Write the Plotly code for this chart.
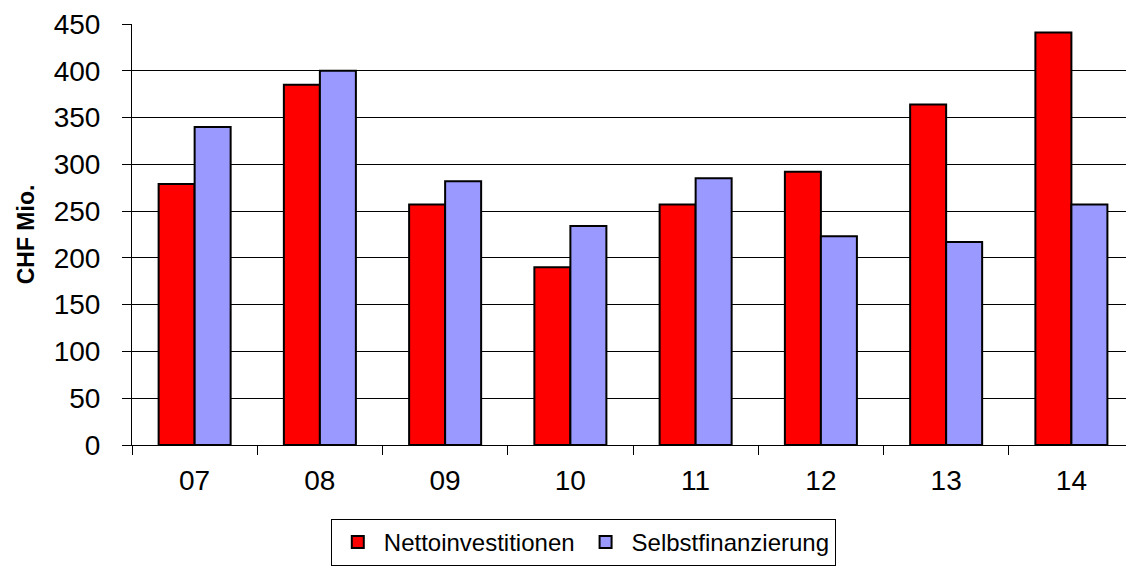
import plotly.graph_objects as go

categories = ["07", "08", "09", "10", "11", "12", "13", "14"]
netto = [279, 385, 257, 190, 257, 292, 364, 441]
selbst = [340, 400, 282, 234, 285, 223, 217, 257]
y_ticks = [0, 50, 100, 150, 200, 250, 300, 350, 400, 450]

FONT = "Liberation Sans, Arial, sans-serif"

fig = go.Figure()
fig.add_trace(go.Bar(
    x=categories, y=netto, name="Nettoinvestitionen",
    marker=dict(color="#FF0000", line=dict(color="#000000", width=2)),
))
fig.add_trace(go.Bar(
    x=categories, y=selbst, name="Selbstfinanzierung",
    marker=dict(color="#9999FF", line=dict(color="#000000", width=2)),
))

fig.update_layout(
    width=1126, height=566,
    margin=dict(l=132, r=0, t=24, b=120, pad=0),
    paper_bgcolor="white", plot_bgcolor="white",
    barmode="group", bargap=0.425, bargroupgap=0,
    font=dict(family=FONT, color="black"),
    showlegend=True,
    legend=dict(
        orientation="h",
        x=0.2, xanchor="left",
        y=-0.177, yanchor="top",
        bgcolor="white", bordercolor="#000000", borderwidth=1,
        font=dict(size=24, family=FONT, color="black"),
        itemwidth=42,
        traceorder="normal",
    ),
    xaxis=dict(
        type="category",
        range=[-0.5, 7.436],
        showgrid=False,
        showline=True, linecolor="#000000", linewidth=1,
        ticks="outside", ticklen=9, tickcolor="#000000", tickwidth=1,
        tickson="boundaries",
        tickfont=dict(size=28, family=FONT, color="black"),
        ticklabelstandoff=10,
        fixedrange=True,
    ),
    yaxis=dict(
        range=[0, 450],
        tickvals=y_ticks,
        showgrid=True, gridcolor="#000000", gridwidth=1,
        showline=True, linecolor="#000000", linewidth=1,
        ticks="outside", ticklen=9, tickcolor="#000000", tickwidth=1,
        tickfont=dict(size=28, family=FONT, color="black"),
        ticklabelstandoff=16,
        zeroline=False,
        title=dict(text="<b>CHF Mio.</b>", font=dict(size=23, family=FONT, color="black"), standoff=12),
        fixedrange=True,
    ),
)

fig.write_html(
    "out.html",
    config={"displayModeBar": False},
    post_script="document.body.style.margin='0';document.body.style.padding='0';",
)
